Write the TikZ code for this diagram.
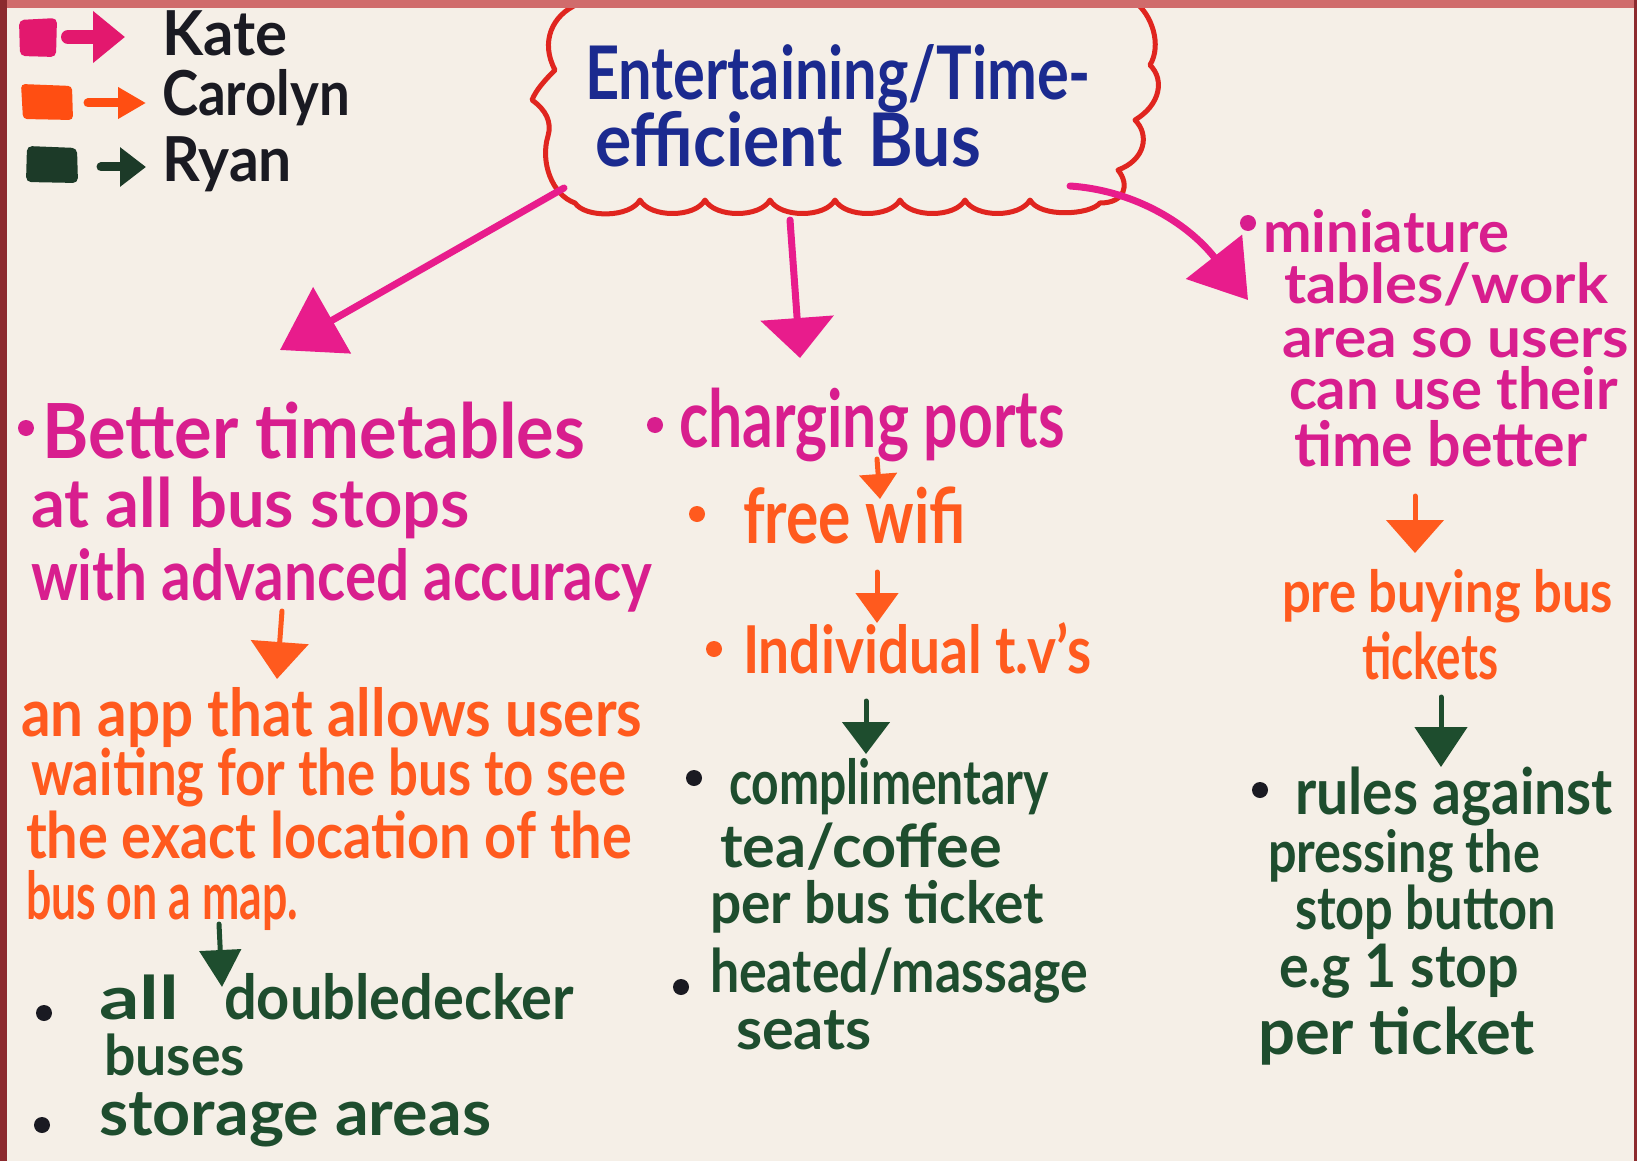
\documentclass[tikz,border=0pt]{standalone}
\usepackage{fontspec}
\usepackage{graphicx}
\setmainfont{Lato}
\usetikzlibrary{arrows.meta}
\definecolor{paper}{HTML}{F5EFE7}
\definecolor{stripT}{HTML}{D06C6C}
\definecolor{stripL}{HTML}{8C2A2E}
\definecolor{pinkT}{HTML}{D81E8E}
\definecolor{pinkA}{HTML}{E81C8C}
\definecolor{pinkK}{HTML}{E3186E}
\definecolor{orangeT}{HTML}{FF5A1E}
\definecolor{orangeK}{HTML}{FF4E12}
\definecolor{greenT}{HTML}{1E4D2E}
\definecolor{greenK}{HTML}{1C3A28}
\definecolor{navy}{HTML}{1B2A8F}
\definecolor{cloudred}{HTML}{E0251F}
\definecolor{inkB}{HTML}{1A1A22}
\newcommand{\fw}[2]{\resizebox{#1pt}{\height}{#2}}
\tikzset{
  ln/.style={anchor=base west,inner sep=0pt,outer sep=0pt},
  fs/.style={font=\fontsize{#1}{#1}\selectfont\bfseries},
  pk/.style={ln,text=pinkT},
  orT/.style={ln,text=orangeT},
  gr/.style={ln,text=greenT},
  bk/.style={ln,text=inkB},
  nv/.style={ln,text=navy},
  arr/.style 2 args={line cap=round,-{Triangle[length=#1pt,width=#2pt]}},
  pinkarrow/.style={draw=pinkA,line width=7pt},
  orarrow/.style={draw=orangeT,line width=5pt},
  grarrow/.style={draw=greenT,line width=5pt},
}
\begin{document}
\begin{tikzpicture}[x=1pt,y=-1pt]
\useasboundingbox (0,0) rectangle (1637,1161);
\fill[paper] (0,0) rectangle (1637,1161);

% ---------- cloud ----------
\draw[cloudred,line width=5pt,line join=round,line cap=round]
  (578,4) .. controls (552,15) and (540,42) .. (555,70)
  .. controls (545,80) and (536,90) .. (532,100)
  .. controls (546,110) and (552,122) .. (548,136)
  .. controls (540,162) and (552,195) .. (575,203)
  .. controls (585,218) and (630,218) .. (640,200)
  .. controls (650,218) and (695,218) .. (705,200)
  .. controls (715,218) and (760,218) .. (770,200)
  .. controls (780,218) and (825,218) .. (835,200)
  .. controls (845,218) and (890,218) .. (900,200)
  .. controls (910,218) and (955,218) .. (965,200)
  .. controls (975,218) and (1020,218) .. (1030,200)
  .. controls (1040,218) and (1090,215) .. (1100,203)
  .. controls (1125,203) and (1130,185) .. (1118,170)
  .. controls (1145,160) and (1150,135) .. (1135,120)
  .. controls (1160,105) and (1165,80) .. (1150,65)
  .. controls (1162,45) and (1152,15) .. (1135,2);
\node[nv,fs=74] (title1) at (585,100) {\fw{506}{Entertaining/Time-}};
\node[nv,fs=74] (title2) at (595,167) {\fw{386}{efficient\hspace{28pt}Bus}};
\coordinate (cloudL) at (564,188);
\coordinate (cloudM) at (790,220);
\coordinate (cloudR) at (1070,186);

% ---------- legend ----------
\fill[pinkK,rounded corners=5pt] (19,20) -- (57,18) -- (56,57) -- (20,56) -- cycle;
\fill[orangeK,rounded corners=4pt] (21,84) -- (72,86) -- (73,120) -- (23,119) -- cycle;
\fill[greenK,rounded corners=5pt] (27,146) -- (77,148) -- (78,183) -- (26,182) -- cycle;
\coordinate (lgP1) at (68,37);  \coordinate (lgP2) at (125,37);
\coordinate (lgO1) at (88,103); \coordinate (lgO2) at (146,103);
\coordinate (lgG1) at (101,167);\coordinate (lgG2) at (146,167);
\draw[draw=pinkK,line width=14pt,arr={32}{50}] (lgP1) -- (lgP2);
\draw[draw=orangeK,line width=9pt,arr={28}{30}] (lgO1) -- (lgO2);
\draw[draw=greenK,line width=9pt,arr={26}{38}] (lgG1) -- (lgG2);
\node[bk,fs=62] (kate) at (162,56) {\fw{125}{Kate}};
\node[bk,fs=62] (carolyn) at (162,116) {\fw{188}{Carolyn}};
\node[bk,fs=62] (ryan) at (162,182) {\fw{130}{Ryan}};

% ---------- left column ----------
\fill[pinkT] (26,428) circle (8);
\node[pk,fs=76] (b1) at (42,458) {\fw{543}{Better timetables}};
\node[pk,fs=68] (b2) at (31,527) {\fw{439}{at all bus stops}};
\node[pk,fs=70] (b3) at (31,600) {\fw{621}{with advanced accuracy}};
\node[orT,fs=66] (a1) at (21,736) {\fw{621}{an app that allows users}};
\node[orT,fs=64] (a2) at (31,795) {\fw{595}{waiting for the bus to see}};
\node[orT,fs=64] (a3) at (26,858) {\fw{606}{the exact location of the}};
\node[orT,fs=66] (a4) at (26,919) {\fw{272}{bus on a map.}};
\fill[inkB] (44,1013) circle (8);
\node[gr,fs=60] (d1a) at (99,1019) {\fw{80}{all}};
\node[gr,fs=62] (d1b) at (224,1019) {\fw{350}{doubledecker}};
\node[gr,fs=56] (d2) at (104,1075) {\fw{141}{buses}};
\fill[inkB] (42,1125) circle (8);
\node[gr,fs=64] (d3) at (99,1135) {\fw{392}{storage areas}};

% ---------- middle column ----------
\fill[pinkT] (655,425) circle (8);
\node[pk,fs=80] (c1) at (679,447) {\fw{386}{charging ports}};
\fill[orangeT] (697,514) circle (8);
\node[orT,fs=76] (c2) at (743,543) {\fw{223}{free wifi}};
\fill[orangeT] (714,649) circle (8);
\node[orT,fs=66] (c3) at (743,673) {\fw{348}{Individual t.v's}};
\fill[inkB] (694,778) circle (8);
\node[gr,fs=62] (c4) at (729,804) {\fw{320}{complimentary}};
\node[gr,fs=60] (c5) at (720,867) {\fw{282}{tea/coffee}};
\node[gr,fs=58] (c6) at (710,923) {\fw{334}{per bus ticket}};
\fill[inkB] (681,987) circle (8);
\node[gr,fs=60] (c7) at (710,992) {\fw{378}{heated/massage}};
\node[gr,fs=58] (c8) at (736,1049) {\fw{136}{seats}};

% ---------- right column ----------
\fill[pinkT] (1248,223) circle (8);
\node[pk,fs=58] (m1) at (1263,252) {\fw{246}{miniature}};
\node[pk,fs=55] (m2) at (1284,303) {\fw{324}{tables/work}};
\node[pk,fs=56] (m3) at (1282,357) {\fw{347}{area so users}};
\node[pk,fs=58] (m4) at (1289,409) {\fw{329}{can use their}};
\node[pk,fs=62] (m5) at (1294,466) {\fw{293}{time better}};
\node[orT,fs=58] (p1) at (1282,612) {\fw{331}{pre buying bus}};
\node[orT,fs=64] (p2) at (1362,679) {\fw{136}{tickets}};
\fill[inkB] (1260,790) circle (8);
\node[gr,fs=64] (r1) at (1295,814) {\fw{318}{rules against}};
\node[gr,fs=58] (r2) at (1268,872) {\fw{272}{pressing the}};
\node[gr,fs=60] (r3) at (1295,929) {\fw{261}{stop button}};
\node[gr,fs=60] (r4) at (1279,987) {\fw{240}{e.g 1 stop}};
\node[gr,fs=64] (r5) at (1258,1054) {\fw{277}{per ticket}};

% ---------- connectors ----------
\coordinate (tipL) at (280,350);
\coordinate (tipM) at (800,358);
\coordinate (tipR) at (1248,300);
\draw[pinkarrow,arr={60}{75}] (cloudL) -- (tipL);
\draw[pinkarrow,arr={40}{72}] (cloudM) -- (tipM);
\draw[pinkarrow,arr={55}{70}] (cloudR) .. controls (1130,190) and (1185,220) .. (tipR);

\coordinate (oL1) at (282,611); \coordinate (oL2) at (277,679);
\draw[orarrow,arr={37}{57}] (oL1) -- (oL2);
\coordinate (gL1) at (219,924); \coordinate (gL2) at (222,987);
\draw[grarrow,arr={37}{41}] (gL1) -- (gL2);

\coordinate (oM1) at (877,459); \coordinate (oM2) at (880,499);
\draw[orarrow,arr={25}{37}] (oM1) -- (oM2);
\coordinate (oM3) at (877,572); \coordinate (oM4) at (877,623);
\draw[orarrow,arr={30}{42}] (oM3) -- (oM4);
\coordinate (gM1) at (866,701); \coordinate (gM2) at (866,754);
\draw[grarrow,arr={32}{47}] (gM1) -- (gM2);

\coordinate (oR1) at (1415,496); \coordinate (oR2) at (1415,553);
\draw[orarrow,arr={33}{57}] (oR1) -- (oR2);
\coordinate (gR1) at (1441,697); \coordinate (gR2) at (1441,767);
\draw[grarrow,arr={40}{52}] (gR1) -- (gR2);

% ---------- photo frame ----------
\fill[stripT] (0,0) rectangle (1637,8);
\fill[stripL] (0,0) rectangle (7,1161);
\fill[stripL] (1634,0) rectangle (1637,1161);
\end{tikzpicture}
\end{document}
